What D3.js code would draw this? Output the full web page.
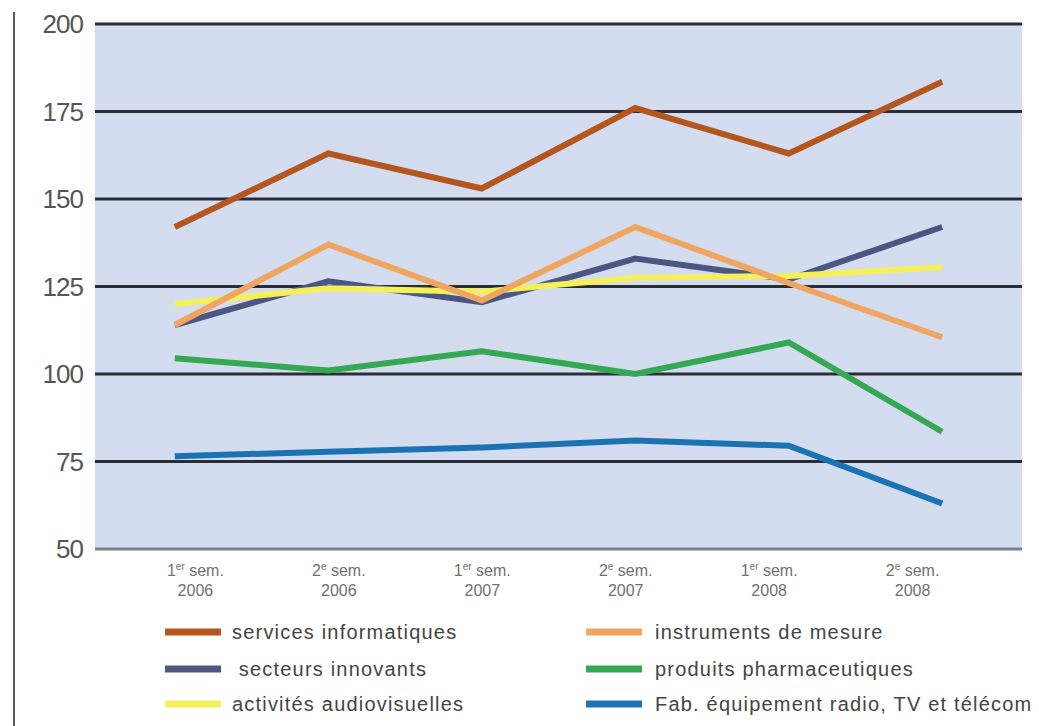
<!DOCTYPE html>
<html>
<head>
<meta charset="utf-8">
<script src="https://cdn.jsdelivr.net/npm/d3@7"></script>
<style>
  body { margin: 0; background: #fff; }
  svg { display: block; font-family: "Liberation Sans", Arial, sans-serif; }
</style>
</head>
<body>
<svg id="chart" width="1039" height="726"></svg>
<script>
// periods (x categories)
const periods = ["S1 2006", "S2 2006", "S1 2007", "S2 2007", "S1 2008", "S2 2008"];
const periodOrd = ["er", "e", "er", "e", "er", "e"];
const periodNum = ["1", "2", "1", "2", "1", "2"];
const periodYear = ["2006", "2006", "2007", "2007", "2008", "2008"];

const yTicks = [50, 75, 100, 125, 150, 175, 200];

// series values
const services = [142, 163, 153, 176, 163, 183.5];
const innovants = [114, 126.5, 120.5, 133, 127, 142];
const audiovisuel = [120, 124.5, 123.5, 127.5, 128, 130.5];
const instruments = [114, 137, 121, 142, 126, 110.5];
const pharma = [104.5, 101, 106.5, 100, 109, 83.5];
const radioTv = [76.5, 77.8, 79, 81, 79.5, 63];

const seriesNames = ["services informatiques", " secteurs innovants", "activités audiovisuelles",
                     "instruments de mesure", "produits pharmaceutiques", "Fab. équipement radio, TV et télécom"];
const seriesValues = [services, innovants, audiovisuel, instruments, pharma, radioTv];
const seriesColors = ["#b5561f", "#4b5682", "#f6ef5c", "#f0a660", "#34a853", "#1c73b4"];

const plot = {left: 95, right: 1022, top: 24, bottom: 549};

const svg = d3.select("#chart");

// left border line
svg.append("line")
    .attr("x1", 14).attr("x2", 14)
    .attr("y1", 12).attr("y2", 726)
    .attr("stroke", "#222")
    .attr("stroke-width", 1.5);

const x = d3.scalePoint()
    .domain(periods)
    .range([plot.left, plot.right])
    .padding(0.52);

// the category labels sit on a slightly tighter grid than the line vertices
const xLabel = d3.scalePoint()
    .domain(periods)
    .range([plot.left, 1013])
    .padding(0.7);

const y = d3.scaleLinear()
    .domain([50, 200])
    .range([plot.bottom, plot.top]);

// background
svg.append("rect")
    .attr("x", plot.left)
    .attr("y", y(200))
    .attr("width", plot.right - plot.left)
    .attr("height", y(50) - y(200))
    .attr("fill", "#d3ddef");

// gridlines
svg.append("g")
    .selectAll("line")
    .data(yTicks)
    .join("line")
    .attr("x1", plot.left)
    .attr("x2", plot.right)
    .attr("y1", d => y(d))
    .attr("y2", d => y(d))
    .attr("stroke", d => d == 50 ? "#7d8088" : "#2a2d35")
    .attr("stroke-width", 3);

// y tick labels
svg.append("g")
    .selectAll("text")
    .data(yTicks)
    .join("text")
    .attr("x", 83)
    .attr("y", d => y(d))
    .attr("text-anchor", "end")
    .attr("dominant-baseline", "central")
    .attr("font-size", 26)
    .attr("letter-spacing", -1)
    .attr("fill", "#555")
    .text(d => d);

// x labels
const xl = svg.append("g")
    .selectAll("text")
    .data(periods)
    .join("text")
    .attr("text-anchor", "middle")
    .attr("font-size", 16)
    .attr("fill", "#707070");
xl.append("tspan")
    .attr("x", d => xLabel(d))
    .attr("y", 576)
    .text((d, i) => periodNum[i]);
xl.append("tspan")
    .attr("dy", -6)
    .attr("font-size", 10)
    .text((d, i) => periodOrd[i]);
xl.append("tspan")
    .attr("dy", 6)
    .text(" sem.");
xl.append("tspan")
    .attr("x", d => xLabel(d))
    .attr("y", 596)
    .text((d, i) => periodYear[i]);

// lines
const line = d3.line()
    .x((d, i) => x(periods[i]))
    .y(d => y(d));

svg.append("g")
    .selectAll("path")
    .data(seriesValues)
    .join("path")
    .attr("d", d => line(d))
    .attr("fill", "none")
    .attr("stroke", (d, i) => seriesColors[i])
    .attr("stroke-width", 6)
    .attr("stroke-linejoin", "miter");

// legend
const legendCols = [165, 586];
const legendRows = [632, 669, 704];
const leg = svg.append("g")
    .selectAll("g")
    .data(seriesNames)
    .join("g")
    .attr("transform", (d, i) => `translate(${legendCols[Math.floor(i / 3)]},${legendRows[i % 3]})`);
leg.append("line")
    .attr("x1", 0).attr("x2", 56)
    .attr("stroke", (d, i) => seriesColors[i])
    .attr("stroke-width", 7);
leg.append("text")
    .attr("x", (d, i) => i < 3 ? 67 : 69)
    .attr("dominant-baseline", "central")
    .attr("font-size", 20)
    .attr("letter-spacing", 1.2)
    .attr("fill", "#444")
    .attr("xml:space", "preserve")
    .style("white-space", "pre")
    .text(d => d);
</script>
</body>
</html>
